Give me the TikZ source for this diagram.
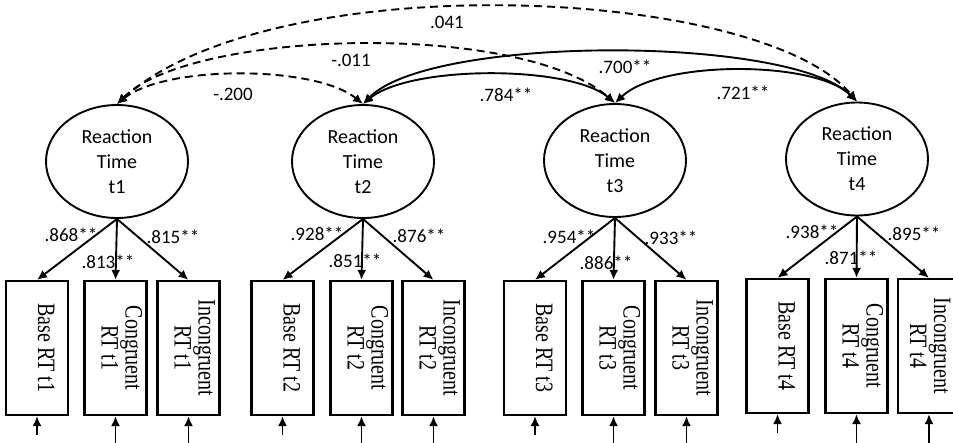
\documentclass[tikz,border=0pt]{standalone}
\usepackage{fontspec}
\setmainfont{Liberation Serif}
\newfontfamily\carlito{Carlito}
\usetikzlibrary{shapes.geometric,arrows.meta}
\begin{document}
\begin{tikzpicture}[x=1pt,y=-1pt,
  lat/.style={ellipse, draw, line width=1.9pt, minimum width=142pt, minimum height=113pt, inner sep=0pt, align=center, font=\carlito\fontsize{20}{25}\selectfont},
  obs/.style={draw, line width=2.2pt, minimum width=62pt, minimum height=134pt, inner sep=0pt},
  obstext/.style={inner sep=0pt, font=\fontsize{25}{24}\selectfont},
  lab/.style={font=\carlito\fontsize{19}{22}\selectfont, inner sep=0pt},
  load/.style={-{Latex[length=10pt,width=9pt]}, line width=1.9pt},
  cov/.style={{Latex[length=10pt,width=9pt]}-{Latex[length=10pt,width=9pt]}, line width=1.9pt},
  covd/.style={cov, dash pattern=on 8pt off 5pt}]
\useasboundingbox (0,0) rectangle (953,442);
\clip (0,0) rectangle (953,442);

\newcommand{\rt}[1]{\rotatebox{-90}{\scalebox{0.8}[1]{\begin{tabular}{@{}c@{}}#1\end{tabular}}}}

% latent variables
\node[lat] (l1) at (117,161.5) {Reaction\\Time\\t1};
\node[lat] (l2) at (363,161.5) {Reaction\\Time\\t2};
\node[lat] (l3) at (615,160.5) {Reaction\\Time\\t3};
\node[lat] (l4) at (857,159) {Reaction\\Time\\t4};

% observed boxes
\foreach \n/\x/\y in {11/37/348,12/115.5/348,13/188.5/348,
                      21/282.5/348,22/361.5/348,23/433.5/348,
                      31/535/348,32/613.5/348,33/686.5/348,
                      41/777.5/346,42/856.5/346,43/929/346}
  \node[obs] (b\n) at (\x,\y) {};

% box texts
\foreach \t/\s in {1/3pt,2/3pt,3/3pt,4/-2pt}{
  \node[obstext] (tb\t1) at ([xshift=6pt]b\t1.center) {\rt{Base RT t\t}};
  \node[obstext] (tb\t2) at ([xshift=3pt]b\t2.center) {\rt{Congruent\\RT t\t}};
  \node[obstext] (tb\t3) at ([xshift=\s]b\t3.center) {\rt{Incongruent\\RT t\t}};
}

% loadings
\foreach \t in {1,2,3,4}
  \foreach \k in {1,2,3}
    \draw[load] (l\t.south) -- (b\t\k.north);

% error arrows
\foreach \n/\x/\y in {11/37/435,12/115.5/446,13/188.5/446,
                      21/282.5/435,22/361.5/446,23/433.5/446,
                      31/535/435,32/613.5/446,33/686.5/446,
                      41/777.5/433,42/856.5/446,43/929/446}{
  \coordinate (e\n) at (\x,\y);
  \draw[load] (e\n) -- (b\n.south);
}

% covariances
\draw[covd] (l1.north) .. controls (165,65) and (315,65) .. (l2.north);
\draw[covd] (l1.north) .. controls (190,30) and (520,20) .. (l3.north);
\draw[covd] (l1.north) .. controls (270,-35) and (760,-15) .. (l4.north);
\draw[cov] (l2.north) .. controls (410,65) and (570,65) .. (l3.north);
\draw[cov] (l2.north) .. controls (430,35) and (790,35) .. (l4.north);
\draw[cov] (l3.north) .. controls (660,60) and (815,60) .. (l4.north);

% covariance labels
\node[lab] (c12) at (233,94) {-.200};
\node[lab] (c13) at (351,60) {-.011};
\node[lab] (c14) at (447,22) {.041};
\node[lab] (c23) at (506,95) {.784**};
\node[lab] (c24) at (625,67) {.700**};
\node[lab] (c34) at (743,93) {.721**};

% loading labels
\node[lab] (g11) at (71,235) {.868**};
\node[lab] (g12) at (108,262) {.813**};
\node[lab] (g13) at (173,237) {.815**};
\node[lab] (g21) at (317,234) {.928**};
\node[lab] (g22) at (355,261) {.851**};
\node[lab] (g23) at (419,236) {.876**};
\node[lab] (g31) at (569,237) {.954**};
\node[lab] (g32) at (606,263) {.886**};
\node[lab] (g33) at (671,238) {.933**};
\node[lab] (g41) at (812,232) {.938**};
\node[lab] (g42) at (851,258) {.871**};
\node[lab] (g43) at (914,234) {.895**};
\end{tikzpicture}
\end{document}
